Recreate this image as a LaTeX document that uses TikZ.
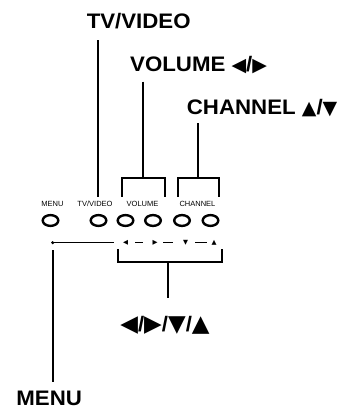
\documentclass[tikz,border=0pt]{standalone}
\usepackage{fontspec}
\setmainfont{Liberation Sans}
\newfontfamily\symf{DejaVu Sans}
\newfontfamily\bigf[FakeStretch=1.06]{Liberation Sans}
\newcommand{\tri}[1]{{\symf\fontsize{19}{19}\selectfont #1}}
\newcommand{\trib}[1]{{\symf\fontsize{23}{23}\selectfont #1}}
\usetikzlibrary{shapes.geometric}
\tikzset{
  big/.style={font=\fontsize{21}{21}\selectfont\bigf\bfseries, inner sep=0pt, anchor=base},
  small/.style={font=\fontsize{7.5}{7.5}\selectfont, inner sep=0pt, anchor=base},
  tiny/.style={font=\fontsize{6.5}{6.5}\selectfont\symf, inner sep=0pt},
  lead/.style={line width=2pt},
  knob/.style={draw, line width=2.4pt, ellipse, minimum width=15.6pt, minimum height=10.8pt, inner sep=0pt},
}
\begin{document}
\begin{tikzpicture}[x=1pt,y=-1pt]
\useasboundingbox (0,0) rectangle (353,408);
% big labels
\node[big] (ltv) at (138.7,28.3) {TV/VIDEO};
\node[big, anchor=base west] (lvol) at (130,71.7) {VOLUME \tri{◀}/\tri{▶}};
\node[big, anchor=base west] (lch) at (186.7,114.7) {CHANNEL \tri{▲}/\tri{▼}};
\node[big] (larr) at (165,331) {\trib{◀}/\trib{▶}/\trib{▼}/\trib{▲}};
\node[big] (lmenu) at (49.2,405) {MENU};
% small labels
\node[small] (smenu) at (52.5,206.7) {MENU};
\node[small] (stv) at (95,206.7) {TV/VIDEO};
\node[small] (svol) at (142.5,206.7) {VOLUME};
\node[small] (sch) at (197.5,206.7) {CHANNEL};
% knobs
\node[knob] (k1) at (50.5,220.5) {};
\node[knob] (k2) at (98.5,220.5) {};
\node[knob] (k3) at (125.5,220.5) {};
\node[knob] (k4) at (153,220.5) {};
\node[knob] (k5) at (182,220.5) {};
\node[knob] (k6) at (210.5,220.5) {};
% leaders top
\coordinate (tvtop) at (97.5,40);
\coordinate (tvbot) at (97.5,197);
\draw[lead] (tvtop) -- (tvbot);
\coordinate (voltop) at (143,81.7);
\coordinate (volmid) at (143,178.3);
\draw[lead] (voltop) -- (volmid);
\draw[lead] (121.7,196.7) -- (121.7,178.3) -- (165,178.3) -- (165,196.7);
\coordinate (chtop) at (198.3,123.3);
\coordinate (chmid) at (198.3,178.3);
\draw[lead] (chtop) -- (chmid);
\draw[lead] (178.3,196.7) -- (178.3,178.3) -- (219.3,178.3) -- (219.3,196.7);
% bottom row
\coordinate (dot) at (52.7,242.7);
\fill (dot) circle (1.7);
\node[tiny] (t1) at (125.5,242.7) {◀};
\node[tiny] (t2) at (155,242.7) {▶};
\node[tiny] (t3) at (185.5,242.7) {▼};
\node[tiny] (t4) at (214,242.7) {▲};
\draw[line width=1pt] (dot) -- (114,242.7);
\draw[line width=1pt] (135,242.7) -- (143,242.7);
\draw[line width=1pt] (163,242.7) -- (173,242.7);
\draw[line width=1pt] (195,242.7) -- (207,242.7);
% bottom bracket
\draw[lead] (118.3,249.3) -- (118.3,262) -- (221.7,262) -- (221.7,249.3);
\coordinate (arrtop) at (168,262);
\coordinate (arrbot) at (168,298);
\draw[lead] (arrtop) -- (arrbot);
% menu leader
\coordinate (mtop) at (53.3,250);
\coordinate (mbot) at (53.3,381.7);
\draw[lead] (mtop) -- (mbot);
\end{tikzpicture}
\end{document}
